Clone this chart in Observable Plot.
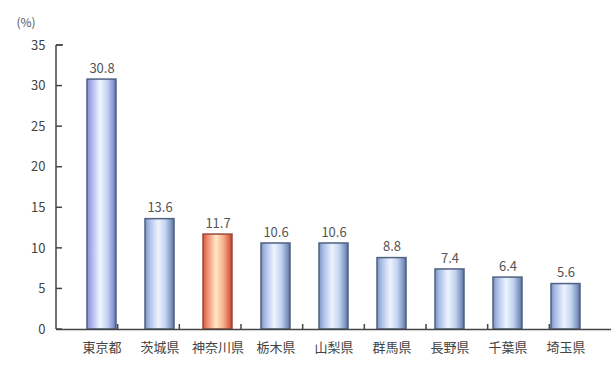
<!DOCTYPE html>
<html><head><meta charset="utf-8">
<script src="https://cdn.jsdelivr.net/npm/d3@7"></script>
<script src="https://cdn.jsdelivr.net/npm/@observablehq/plot@0.6"></script>
<style>body{margin:0;background:#fff;} svg{display:block;}</style>
</head><body><div id="chart"></div>
<script>
const categories = ["東京都","茨城県","神奈川県","栃木県","山梨県","群馬県","長野県","千葉県","埼玉県"];
const values = [30.8, 13.6, 11.7, 10.6, 10.6, 8.8, 7.4, 6.4, 5.6];
const valueLabels = ["30.8","13.6","11.7","10.6","10.6","8.8","7.4","6.4","5.6"];
const highlight = ["東京都","神奈川県"];
const yTicks = [0,5,10,15,20,25,30,35];
const unitLabel = ["(%)"];

const data = categories.map((c,i)=>({cat:c, v:values[i], label:valueLabels[i]}));
const gradFor = d => d.cat === "神奈川県" ? "url(#gOrange)" : d.cat === "東京都" ? "url(#gPurple)" : "url(#gBlue)";
const strokeFor = d => d.cat === "神奈川県" ? "#9a4a3a" : "#4f6280";

const chart = Plot.plot({
  width: 611, height: 365,
  marginLeft: 56, marginRight: 0, marginTop: 45, marginBottom: 36,
  style: {fontFamily: "'Noto Sans CJK JP', 'DejaVu Sans', sans-serif", fontSize: "13px", color: "#444", background: "#fff"},
  x: {domain: categories, padding: 0.5, label: null, tickSize: 0, tickPadding: 13},
  y: {domain: [0, 35], ticks: yTicks, label: null, tickSize: 0, tickPadding: 11},
  marks: [
    Plot.barY(data, {x: "cat", y: "v", fill: gradFor, stroke: strokeFor, strokeWidth: 1.5}),
    Plot.text(data, {x: "cat", y: "v", text: "label", dy: -11, fill: "#555", fontSize: 13}),
    Plot.ruleY([0], {stroke: "#444", strokeWidth: 1.5}),
    Plot.text(unitLabel, {frameAnchor: "top-left", text: d => d, dx: -40, dy: -27, textAnchor: "start", fill: "#555", fontSize: 12})
  ]
});

const svg = d3.select(chart.tagName.toLowerCase() === "svg" ? chart : chart.querySelector("svg"));
const defs = svg.insert("defs", ":first-child");
function grad(id, stops){
  const g = defs.append("linearGradient").attr("id", id).attr("x1","0").attr("x2","1").attr("y1","0").attr("y2","0");
  stops.forEach(([o,c])=>g.append("stop").attr("offset",o).attr("stop-color",c));
}
grad("gBlue", [[0,"#7f93c4"],[0.15,"#a9bde6"],[0.45,"#eef4ff"],[0.7,"#c3d3ef"],[0.9,"#7f97c4"],[1,"#5b6f99"]]);
grad("gPurple", [[0,"#8a8ed8"],[0.15,"#aab0ec"],[0.45,"#eef6ff"],[0.7,"#c6d2f2"],[0.9,"#8a98d0"],[1,"#5f6aa0"]]);
grad("gOrange", [[0,"#d8583e"],[0.15,"#f08a6e"],[0.45,"#ffe9c8"],[0.7,"#f7b08e"],[0.9,"#db6a4c"],[1,"#a84632"]]);

const xs = chart.scale("x"), ys = chart.scale("y");
const step = (xs.range[1]-xs.range[0]) / categories.length;
const x0 = xs.range[0];
const g = svg.append("g").attr("stroke", "#444").attr("stroke-width", 1.5);
// y axis line
g.append("line").attr("x1", x0).attr("x2", x0).attr("y1", ys.apply(35)).attr("y2", ys.apply(0));
g.append("line").attr("x1", x0).attr("x2", x0+7).attr("y1", ys.apply(35)).attr("y2", ys.apply(35));
yTicks.forEach(t => g.append("line").attr("x1", x0).attr("x2", x0+6).attr("y1", ys.apply(t)).attr("y2", ys.apply(t)));
// band separators on x axis
for (let i = 1; i < categories.length; i++) {
  const bx = x0 + i*step;
  g.append("line").attr("x1", bx).attr("x2", bx).attr("y1", ys.apply(0)).attr("y2", ys.apply(0)-5);
}
document.getElementById("chart").appendChild(chart);
</script></body></html>
